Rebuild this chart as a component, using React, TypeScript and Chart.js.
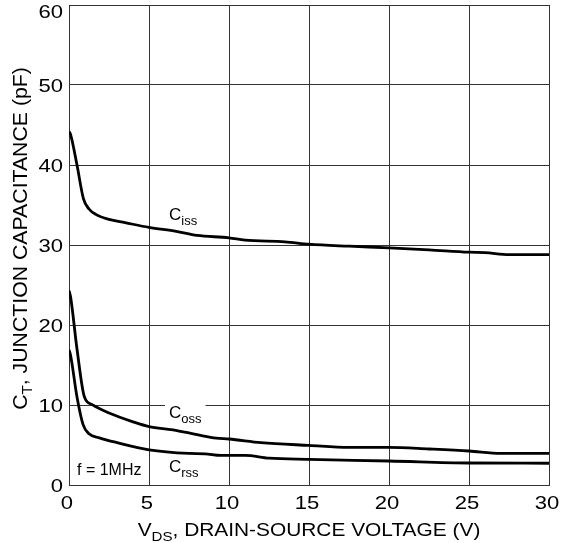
import React, { useEffect, useRef } from "react";
import { Chart, registerables } from "chart.js";

Chart.register(...registerables);

// ---- Data ----
const cissX = [0, 0.1, 0.5, 0.9, 1.25, 1.7, 2.5, 3.5, 5, 6.7, 8, 10, 11, 13.5, 15, 17.5, 20, 22.5, 25, 26, 27.5, 30];
const cissY = [44.2, 43.8, 40, 35.8, 34.5, 33.8, 33.2, 32.8, 32.2, 31.7, 31.2, 30.9, 30.6, 30.4, 30.1, 29.85, 29.65, 29.4, 29.1, 29.05, 28.8, 28.8];

const cossX = [0, 0.1, 0.5, 0.95, 1.45, 2.5, 4, 5, 6.5, 8, 9.2, 10, 12, 15, 17.5, 20, 22.5, 25, 27, 30];
const cossY = [24.3, 23.5, 17, 11.1, 10.05, 9.0, 7.9, 7.3, 6.9, 6.3, 5.85, 5.75, 5.3, 4.95, 4.7, 4.7, 4.5, 4.25, 3.95, 3.95];

const crssX = [0, 0.1, 0.5, 0.88, 1.25, 1.9, 3, 5, 7.5, 8.5, 9.5, 11, 12.5, 15, 20, 25, 30];
const crssY = [16.9, 16.2, 11, 7.55, 6.4, 5.9, 5.3, 4.4, 3.95, 3.9, 3.7, 3.7, 3.35, 3.2, 3.0, 2.75, 2.72];

const xMin = 0, xMax = 30, xStep = 5;
const yMin = 0, yMax = 60, yStep = 10;

const xTitleMain = "V";
const xTitleSub = "DS";
const xTitleRest = ", DRAIN-SOURCE VOLTAGE (V)";
const yTitleMain = "C";
const yTitleSub = "T";
const yTitleRest = ", JUNCTION CAPACITANCE (pF)";

// curve labels: [main, subscript, x, y (data units, baseline), white background]
const curveLabels: [string, string, number, number, boolean][] = [
  ["C", "iss", 6.25, 33.1, false],
  ["C", "oss", 6.25, 8.4, true],
  ["C", "rss", 6.25, 1.6, false],
];
const noteText = "f = 1MHz";
const noteX = 0.5;
const noteY = 1.25;

const FONT = "'Liberation Sans', Arial, Helvetica, sans-serif";
const SX = 1.16; // horizontal stretch of the reference lettering

function toPts(xs: number[], ys: number[]) {
  return xs.map((x, i) => ({ x, y: ys[i] }));
}

function drawStretched(ctx: CanvasRenderingContext2D, text: string, x: number, y: number, align: CanvasTextAlign, sx: number) {
  ctx.save();
  ctx.translate(x, y);
  ctx.scale(sx, 1);
  ctx.textAlign = align;
  ctx.fillText(text, 0, 0);
  ctx.restore();
}

const textPlugin = {
  id: "customText",
  afterDraw(chart: any) {
    const ctx = chart.ctx as CanvasRenderingContext2D;
    const ca = chart.chartArea;
    const xs = chart.scales.x;
    const ys = chart.scales.y;
    ctx.save();
    ctx.fillStyle = "#000";
    ctx.textBaseline = "alphabetic";
    ctx.textAlign = "left";

    // Tick labels
    const tickFont = `19px ${FONT}`;
    ctx.font = tickFont;
    xs.ticks.forEach((t: any) => {
      const px = xs.getPixelForValue(t.value) - 2;
      drawStretched(ctx, String(t.value), px, 509, "center", SX);
    });
    ys.ticks.forEach((t: any) => {
      const py = ys.getPixelForValue(t.value);
      const base = Math.max(py + 6.8, 18);
      drawStretched(ctx, String(t.value), 63, base, "right", SX);
    });

    // X title
    const big = `18px ${FONT}`;
    const small = `13px ${FONT}`;
    ctx.font = big;
    const w1 = ctx.measureText(xTitleMain).width * SX;
    const w3 = ctx.measureText(xTitleRest).width * SX;
    ctx.font = small;
    const w2 = ctx.measureText(xTitleSub).width * SX;
    const total = w1 + w2 + w3;
    let cx = (ca.left + ca.right) / 2 - total / 2;
    const by = 536;
    ctx.font = big;
    drawStretched(ctx, xTitleMain, cx, by, "left", SX);
    cx += w1;
    ctx.font = small;
    drawStretched(ctx, xTitleSub, cx, by + 5, "left", SX);
    cx += w2;
    ctx.font = big;
    drawStretched(ctx, xTitleRest, cx, by, "left", SX);

    // Y title (rotated)
    const ysx = 1.09;
    const ybig = `19.5px ${FONT}`;
    const ysmall = `14px ${FONT}`;
    ctx.save();
    ctx.translate(27, 238.5);
    ctx.rotate(-Math.PI / 2);
    ctx.font = ybig;
    const v1 = ctx.measureText(yTitleMain).width * ysx;
    const v3 = ctx.measureText(yTitleRest).width * ysx;
    ctx.font = ysmall;
    const v2 = ctx.measureText(yTitleSub).width * ysx;
    let ty = -(v1 + v2 + v3) / 2;
    ctx.font = ybig;
    drawStretched(ctx, yTitleMain, ty, 0, "left", ysx);
    ty += v1;
    ctx.font = ysmall;
    drawStretched(ctx, yTitleSub, ty, 5, "left", ysx);
    ty += v2;
    ctx.font = ybig;
    drawStretched(ctx, yTitleRest, ty, 0, "left", ysx);
    ctx.restore();

    // Curve labels
    const lf = `17px ${FONT}`;
    const sf = `13px ${FONT}`;
    curveLabels.forEach(([m, s, dx, dy, bg]) => {
      const px = xs.getPixelForValue(dx);
      const py = ys.getPixelForValue(dy);
      ctx.font = lf;
      const mw = ctx.measureText(m).width;
      ctx.font = sf;
      const sw = ctx.measureText(s).width;
      if (bg) {
        ctx.fillStyle = "#fff";
        ctx.fillRect(px - 4, py - 15, mw + sw + 8, 22);
        ctx.fillStyle = "#000";
      }
      ctx.font = lf;
      ctx.fillText(m, px, py);
      ctx.font = sf;
      ctx.fillText(s, px + mw, py + 5);
    });

    // Note
    ctx.font = `16px ${FONT}`;
    ctx.fillText(noteText, xs.getPixelForValue(noteX), ys.getPixelForValue(noteY));
    ctx.restore();
  },
};

export default function App() {
  const ref = useRef<HTMLCanvasElement>(null);
  useEffect(() => {
    if (!ref.current) return;
    const lineStyle = {
      borderColor: "#000",
      borderWidth: 2.8,
      pointRadius: 0,
      fill: false,
      cubicInterpolationMode: "monotone" as const,
    };
    const chart = new Chart(ref.current, {
      type: "line",
      data: {
        datasets: [
          { label: "Ciss", data: toPts(cissX, cissY), ...lineStyle },
          { label: "Coss", data: toPts(cossX, cossY), ...lineStyle },
          { label: "Crss", data: toPts(crssX, crssY), ...lineStyle },
        ],
      },
      options: {
        animation: false,
        responsive: false,
        maintainAspectRatio: false,
        devicePixelRatio: 1,
        layout: { padding: { top: 5, right: 12, left: 0, bottom: 0 } },
        plugins: { legend: { display: false }, tooltip: { enabled: false } },
        scales: {
          x: {
            type: "linear",
            min: xMin,
            max: xMax,
            ticks: { stepSize: xStep, display: false },
            grid: { color: "#333", lineWidth: 1, drawTicks: false },
            border: { color: "#333", width: 1 },
            afterFit(scale: any) {
              scale.height = 58;
              scale.paddingLeft = 0;
              scale.paddingRight = 0;
            },
          },
          y: {
            type: "linear",
            min: yMin,
            max: yMax,
            ticks: { stepSize: yStep, display: false },
            grid: { color: "#333", lineWidth: 1, drawTicks: false },
            border: { color: "#333", width: 1 },
            afterFit(scale: any) {
              scale.width = 69;
              scale.paddingTop = 0;
              scale.paddingBottom = 0;
            },
          },
        },
      },
      plugins: [textPlugin],
    });
    return () => chart.destroy();
  }, []);
  return (
    <div style={{ position: "fixed", left: 0, top: 0, width: 561, height: 543, background: "#fff" }}>
      <canvas ref={ref} width={561} height={543} style={{ display: "block" }} />
    </div>
  );
}
